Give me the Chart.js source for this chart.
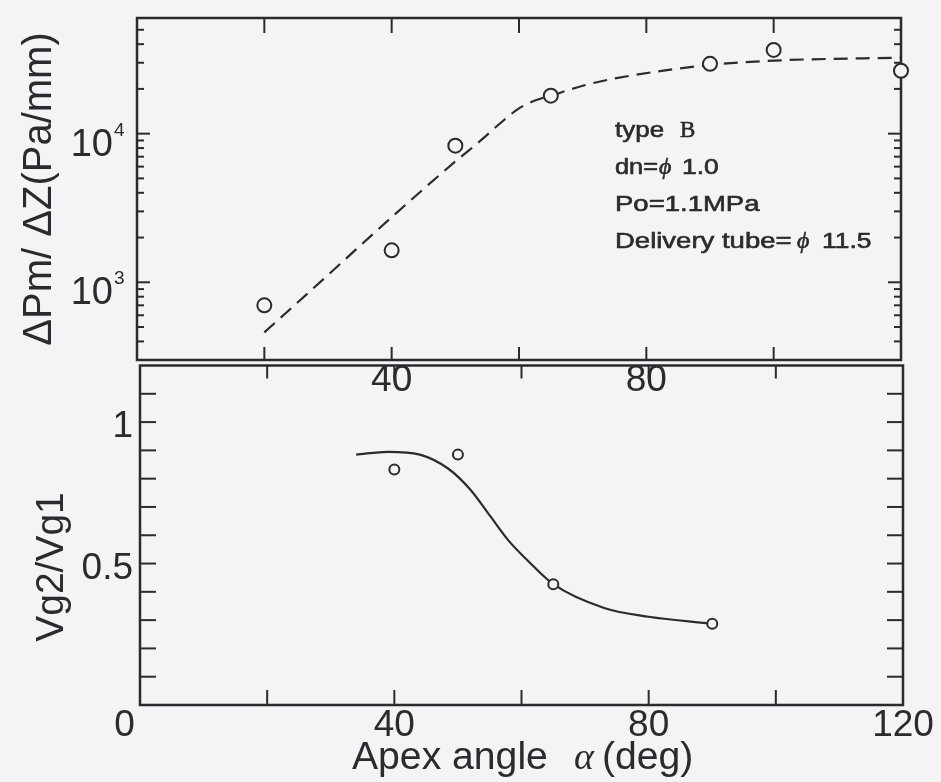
<!DOCTYPE html>
<html>
<head>
<meta charset="utf-8">
<script src="https://cdn.jsdelivr.net/npm/chart.js@4.4.1/dist/chart.umd.min.js"></script>
<style>
  html, body { margin: 0; padding: 0; background: #f4f3f6; }
  #wrap { position: relative; width: 941px; height: 782px; overflow: hidden; }
  canvas { position: absolute; left: 0; }
  #top_chart { top: 0; }
  #bottom_chart { top: 340px; }
</style>
</head>
<body>
<div id="wrap">
  <canvas id="top_chart" width="941" height="400"></canvas>
  <canvas id="bottom_chart" width="941" height="442"></canvas>
</div>
<script>
const ink = "#2b2a2e";
const paper = "#f4f3f6";
const sans = "'Liberation Sans', Arial, sans-serif";
const serif = "'Liberation Serif', 'Times New Roman', serif";

// apex angle axis (deg)
const angleTicks = [20, 40, 60, 80, 100];
const angleLabelsTop = [40, 80];
const angleLabelsBottom = [0, 40, 80, 120];

// upper panel: dPm/dZ (Pa/mm), log axis
const pressAngle = [20, 40, 50, 65, 90, 100, 120];
const pressGrad = [700, 1640, 8300, 18000, 29500, 36600, 26500];
const pressFitAngle = [20, 30, 40, 50, 54, 57, 60, 62.5, 65, 70, 75, 90, 100, 120];
const pressFit = [460, 1120, 2740, 6500, 9000, 11700, 14800, 16700, 18000, 21000, 23500, 29000, 31000, 32500];
const pressLabels = [1000, 10000];

// lower panel: Vg2/Vg1
const ratioAngle = [40, 50, 65, 90];
const ratioVal = [0.832, 0.885, 0.427, 0.287];
const ratioFitAngle = [34, 39, 44, 48.5, 52, 55, 58, 61, 65, 73, 80, 90];
const ratioFit = [0.885, 0.895, 0.885, 0.835, 0.76, 0.67, 0.58, 0.51, 0.427, 0.343, 0.312, 0.287];
const ratioLabels = [0.5, 1];
const ratioTicks = [0.1, 0.2, 0.3, 0.4, 0.5, 0.6, 0.7, 0.8, 0.9, 1, 1.1];

// minor ticks of the log axis: 2..9 x 10^n inside the range
const pressMin = 300, pressMax = 60000;
const pressTicks = [];
for (let e = 2; e <= 4; e++) {
  for (let k = 1; k <= 9; k++) {
    const v = k * Math.pow(10, e);
    if (v >= pressMin && v <= pressMax) pressTicks.push(v);
  }
}

function toPoints(xs, ys) {
  return xs.map((x, i) => ({ x: x, y: ys[i] }));
}

function line(ctx, x1, y1, x2, y2) {
  ctx.beginPath();
  ctx.moveTo(x1, y1);
  ctx.lineTo(x2, y2);
  ctx.stroke();
}

// text pieces with their own font, placed on one baseline
function drawRuns(ctx, runs, baseline) {
  runs.forEach((r) => {
    ctx.save();
    ctx.font = r.font;
    ctx.translate(r.x, baseline);
    ctx.scale(r.sx || 1, 1);
    ctx.fillText(r.text, 0, 0);
    if (r.heavy) {
      ctx.lineWidth = 0.6;
      ctx.strokeText(r.text, 0, 0);
    }
    ctx.restore();
  });
}

// box round the plot with inward tick marks
const framePlugin = {
  id: "frame",
  beforeDatasetsDraw(chart, args, opts) {
    const { ctx, chartArea: a, scales } = chart;
    ctx.save();
    ctx.strokeStyle = ink;
    ctx.lineWidth = 2.5;
    ctx.strokeRect(a.left, a.top, a.right - a.left, a.bottom - a.top);
    ctx.lineWidth = 2;
    opts.xTicks.forEach((v) => {
      const px = scales.x.getPixelForValue(v);
      if (opts.topLen) line(ctx, px, a.top, px, a.top + opts.topLen);
      if (opts.bottomLen) line(ctx, px, a.bottom, px, a.bottom - opts.bottomLen);
    });
    opts.yTicks.forEach((v) => {
      const py = scales.y.getPixelForValue(v);
      const len = opts.yMajor.includes(v) ? opts.majorLen : opts.minorLen;
      line(ctx, a.left, py, a.left + len, py);
      line(ctx, a.right, py, a.right - len, py);
    });
    ctx.restore();
  },
};

const topText = {
  id: "topText",
  afterDraw(chart) {
    const { ctx, scales } = chart;
    ctx.save();
    ctx.fillStyle = ink;
    ctx.strokeStyle = ink;
    ctx.textBaseline = "alphabetic";
    // 10^n labels
    pressLabels.forEach((v) => {
      const py = scales.y.getPixelForValue(v);
      ctx.font = "38px " + sans;
      ctx.textAlign = "right";
      ctx.fillText("10", 113, py + 22);
      ctx.font = "19px " + sans;
      ctx.textAlign = "left";
      ctx.fillText(String(Math.round(Math.log10(v))), 114, py + 2);
    });
    ctx.textAlign = "left";
    const f = "22px " + sans;
    const phi = "italic 24px " + serif;
    drawRuns(ctx, [
      { text: "type", x: 615, font: f, sx: 1.18, heavy: true },
      { text: "B", x: 680, font: "23px " + serif, heavy: true },
    ], 137);
    drawRuns(ctx, [
      { text: "dn=", x: 615, font: f, sx: 1.15, heavy: true },
      { text: "\u03d5", x: 659, font: phi, heavy: true },
      { text: "1.0", x: 682, font: f, sx: 1.2, heavy: true },
    ], 174);
    drawRuns(ctx, [
      { text: "Po=1.1MPa", x: 615, font: f, sx: 1.25, heavy: true },
    ], 211);
    drawRuns(ctx, [
      { text: "Delivery tube=", x: 615, font: f, sx: 1.25, heavy: true },
      { text: "\u03d5", x: 797, font: phi, heavy: true },
      { text: "11.5", x: 822, font: f, sx: 1.2, heavy: true },
    ], 248);
    ctx.restore();
  },
};

const bottomText = {
  id: "bottomText",
  afterDraw(chart) {
    const ctx = chart.ctx;
    ctx.save();
    ctx.fillStyle = ink;
    ctx.textBaseline = "alphabetic";
    ctx.save();
    ctx.translate(63, 567 - 340);
    ctx.rotate(-Math.PI / 2);
    ctx.textAlign = "center";
    ctx.font = "39px " + sans;
    ctx.fillText("Vg2/Vg1", 0, 0);
    ctx.restore();
    ctx.textAlign = "left";
    drawRuns(ctx, [
      { text: "Apex angle", x: 352, font: "38px " + sans, sx: 1.03 },
      { text: "\u03b1", x: 574, font: "italic 38px " + serif },
      { text: "(deg)", x: 602, font: "38px " + sans, sx: 1.03 },
    ], 769 - 340);
    ctx.restore();
  },
};

const tickFont = { family: sans, size: 37, lineHeight: 1 };

var topChart = new Chart(document.getElementById("top_chart").getContext("2d"), {
  type: "scatter",
  plugins: [framePlugin, topText],
  data: {
    datasets: [
      {
        data: toPoints(pressAngle, pressGrad),
        pointRadius: 7,
        pointBorderWidth: 2,
        pointBorderColor: ink,
        pointBackgroundColor: paper,
        clip: false,
        order: 1,
      },
      {
        data: toPoints(pressFitAngle, pressFit),
        showLine: true,
        borderColor: ink,
        borderWidth: 2.2,
        borderDash: [14, 8],
        pointRadius: 0,
        cubicInterpolationMode: "monotone",
        clip: false,
        order: 2,
      },
    ],
  },
  options: {
    responsive: false,
    animation: false,
    devicePixelRatio: 1,
    events: [],
    layout: { padding: { left: 0, top: 18, right: 40, bottom: 0 } },
    plugins: {
      legend: { display: false },
      tooltip: { enabled: false },
      frame: {
        xTicks: angleTicks,
        topLen: 15,
        bottomLen: 13,
        yTicks: pressTicks,
        yMajor: pressLabels,
        majorLen: 13,
        minorLen: 7,
      },
    },
    scales: {
      x: {
        type: "linear",
        min: 0,
        max: 120,
        grid: { display: false, drawTicks: false },
        border: { display: false },
        afterBuildTicks: (scale) => {
          scale.ticks = angleLabelsTop.map((v) => ({ value: v }));
        },
        afterFit: (scale) => {
          scale.height = 40;
        },
        ticks: { color: ink, font: tickFont, padding: 2, maxRotation: 0, autoSkip: false },
      },
      y: {
        type: "logarithmic",
        min: pressMin,
        max: pressMax,
        grid: { display: false, drawTicks: false },
        border: { display: false },
        ticks: { display: false },
        afterFit: (scale) => {
          scale.width = 137;
        },
        title: {
          display: true,
          text: "\u0394Pm/ \u0394Z(Pa/mm)",
          color: ink,
          font: { family: sans, size: 40, lineHeight: 1.2 },
          padding: { top: 16, bottom: 0 },
        },
      },
    },
  },
});

var bottomChart = new Chart(document.getElementById("bottom_chart").getContext("2d"), {
  type: "scatter",
  plugins: [framePlugin, bottomText],
  data: {
    datasets: [
      {
        data: toPoints(ratioAngle, ratioVal),
        pointRadius: 5,
        pointBorderWidth: 2,
        pointBorderColor: ink,
        pointBackgroundColor: paper,
        clip: false,
        order: 1,
      },
      {
        data: toPoints(ratioFitAngle, ratioFit),
        showLine: true,
        borderColor: ink,
        borderWidth: 2.2,
        pointRadius: 0,
        cubicInterpolationMode: "monotone",
        clip: false,
        order: 2,
      },
    ],
  },
  options: {
    responsive: false,
    animation: false,
    devicePixelRatio: 1,
    events: [],
    layout: { padding: { left: 0, top: 20, right: 38, bottom: 0 } },
    plugins: {
      legend: { display: false },
      tooltip: { enabled: false },
      frame: {
        xTicks: angleTicks,
        topLen: 13,
        bottomLen: 15,
        yTicks: ratioTicks,
        yMajor: [],
        majorLen: 16,
        minorLen: 16,
      },
    },
    scales: {
      x: {
        type: "linear",
        min: 0,
        max: 120,
        grid: { display: false, drawTicks: false },
        border: { display: false },
        afterBuildTicks: (scale) => {
          scale.ticks = angleLabelsBottom.map((v) => ({ value: v }));
        },
        afterFit: (scale) => {
          scale.height = 77;
        },
        ticks: {
          color: ink,
          font: tickFont,
          padding: 2,
          maxRotation: 0,
          autoSkip: false,
          // the origin "0" sits a little left of the corner
          callback: (v) => (v === 0 ? "0   " : String(v)),
        },
      },
      y: {
        type: "linear",
        min: 0,
        max: 1.2,
        grid: { display: false, drawTicks: false },
        border: { display: false },
        afterBuildTicks: (scale) => {
          scale.ticks = ratioLabels.map((v) => ({ value: v }));
        },
        afterFit: (scale) => {
          scale.width = 140;
        },
        ticks: {
          color: ink,
          font: tickFont,
          padding: 7,
          labelOffset: 5,
          callback: (v) => String(v),
        },
      },
    },
  },
});
</script>
</body>
</html>
